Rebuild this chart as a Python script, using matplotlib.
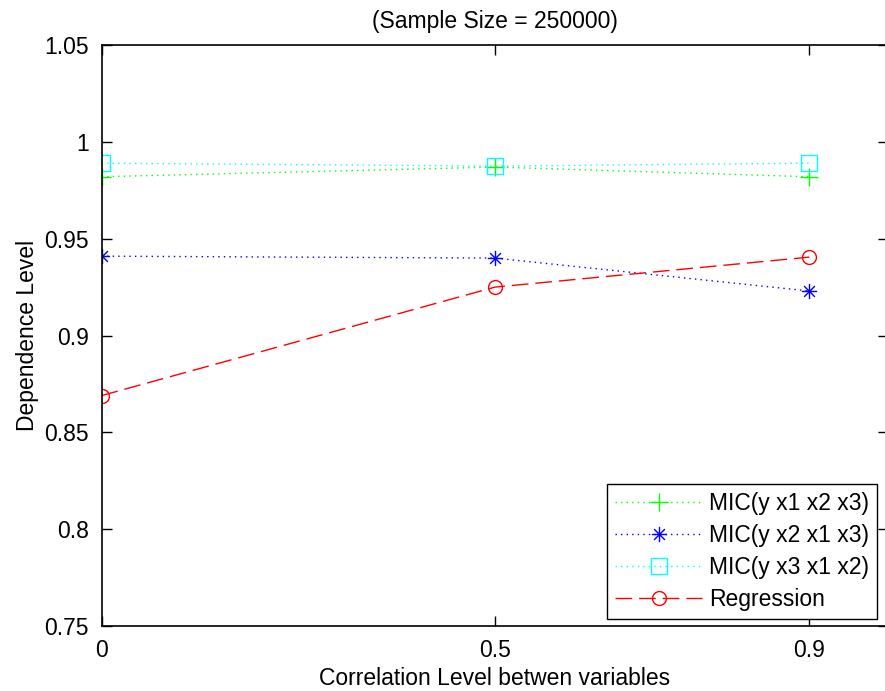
import matplotlib
matplotlib.use("Agg")
import matplotlib.pyplot as plt
from matplotlib.path import Path

# =============================================================
# DATOS
# =============================================================

correlacion = [0, 0.5, 0.9]
mic_x1 = [0.982, 0.987, 0.982]
mic_x2 = [0.941, 0.940, 0.923]
mic_x3 = [0.989, 0.9875, 0.989]
regresion = [0.869, 0.925, 0.9405]

yticks = [0.75, 0.8, 0.85, 0.9, 0.95, 1.0, 1.05]
ytick_labels = ["0.75", "0.8", "0.85", "0.9", "0.95", "1", "1.05"]
xtick_labels = ["0", "0.5", "0.9"]

plt.rcParams["font.family"] = ["Liberation Sans", "DejaVu Sans"]
FS = 16.5
PUNTEADO = (0, (1, 3))

# asterisco estilo MATLAB (+ y x superpuestos)
d = 0.7071
asterisco = Path(
    [(-1, 0), (1, 0), (0, -1), (0, 1), (-d, -d), (d, d), (-d, d), (d, -d)],
    [Path.MOVETO, Path.LINETO] * 4,
)

# =============================================================
# GRAFICADO
# =============================================================

fig = plt.figure(figsize=(8.85, 6.91), dpi=100)
ax = fig.add_axes([0.1148, 0.094, 0.8886, 0.8408])

ax.plot(correlacion, mic_x1, linestyle=PUNTEADO, color=(0, 1, 0), marker="+",
        markersize=13, markeredgewidth=1.0, linewidth=1.0, label="MIC(y x1 x2 x3)")
ax.plot(correlacion, mic_x2, linestyle=PUNTEADO, color=(0, 0, 1), marker=asterisco,
        markersize=11, markeredgewidth=1.0, linewidth=1.0, label="MIC(y x2 x1 x3)")
ax.plot(correlacion, mic_x3, linestyle=PUNTEADO, color=(0, 1, 1), marker="s",
        markersize=11, markerfacecolor="none", markeredgewidth=1.0, linewidth=1.0,
        label="MIC(y x3 x1 x2)")
ax.plot(correlacion, regresion, linestyle=(0, (12, 5)), color=(1, 0, 0), marker="o",
        markersize=10, markerfacecolor="none", markeredgewidth=1.0, linewidth=1.0,
        label="Regression")

ax.set_xlim(0, 1)
ax.set_ylim(0.75, 1.05)
ax.set_xticks(correlacion)
ax.set_xticklabels(xtick_labels, fontsize=FS)
ax.set_yticks(yticks)
ax.set_yticklabels(ytick_labels, fontsize=FS)
ax.tick_params(direction="in", length=7, width=1.0, top=True, right=True, pad=9)

for s in ax.spines.values():
    s.set_linewidth(1.2)

ax.set_title("(Sample Size = 250000)", fontsize=FS, pad=12)
ax.set_xlabel("Correlation Level betwen variables", fontsize=FS, labelpad=4)
ax.set_ylabel("Dependence Level", fontsize=FS, labelpad=4)

leg = ax.legend(loc="lower right", bbox_to_anchor=(0.986, 0.012), borderaxespad=0,
                fontsize=FS, fancybox=False, framealpha=1, edgecolor="black",
                handlelength=3.8, handletextpad=0.3, labelspacing=0.4, borderpad=0.35)
leg.get_frame().set_linewidth(1.0)

plt.savefig("out.png", dpi=100)
plt.close()
